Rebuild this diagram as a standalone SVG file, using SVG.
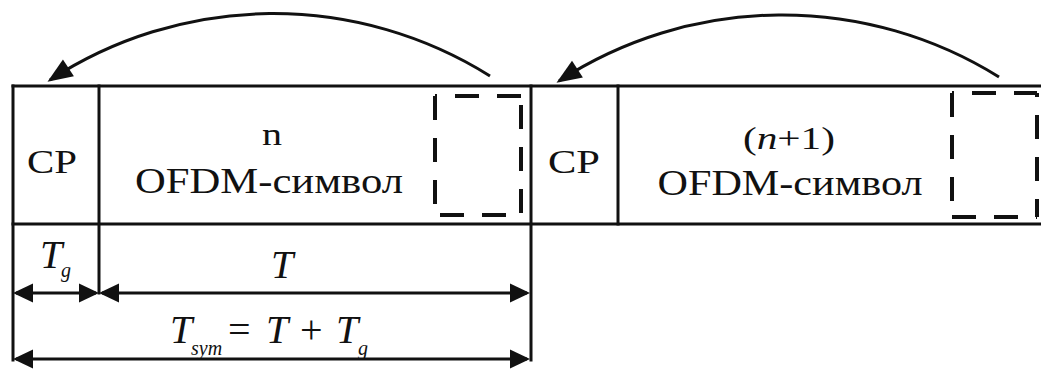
<svg xmlns="http://www.w3.org/2000/svg" width="1041" height="371" viewBox="0 0 1041 371">
  <style>
    .frame { fill: none; stroke: #111; stroke-width: 3; stroke-linecap: square; }
    .dash { fill: none; stroke: #111; stroke-width: 4; stroke-dasharray: 24 18; }
    .arc { fill: none; stroke: #111; stroke-width: 3; marker-end: url(#arcHead); }
    .dim { fill: none; stroke: #111; stroke-width: 3; marker-start: url(#dimHead); marker-end: url(#dimHead); }
    text { font-family: "Times New Roman", "Liberation Serif", Tinos, "DejaVu Serif", "Noto Serif", serif; fill: #111; }
    .lbl { text-anchor: middle; }
    .math { font-style: italic; }
  </style>
  <defs>
    <marker id="arcHead" markerUnits="userSpaceOnUse" viewBox="-24 -11 28 22" refX="0" refY="0" markerWidth="28" markerHeight="22" orient="auto">
      <path d="M3,0 L-22,-10 L-22,10 Z" fill="#111"/>
    </marker>
    <marker id="dimHead" markerUnits="userSpaceOnUse" viewBox="-19 -11 23 22" refX="0" refY="0" markerWidth="23" markerHeight="22" orient="auto-start-reverse">
      <path d="M3,0 L-17,-9.5 L-17,9.5 Z" fill="#111"/>
    </marker>
  </defs>

  <rect width="1041" height="371" fill="#fff"/>

  <!-- outer rails of the symbol stream -->
  <g id="rails">
    <line class="frame" x1="13" y1="86" x2="1041" y2="86"/>
    <line class="frame" x1="13" y1="224" x2="1041" y2="224"/>
  </g>

  <!-- symbol n: cyclic prefix + body -->
  <g id="symbol-n">
    <line class="frame" x1="13" y1="86" x2="13" y2="360"/>
    <line class="frame" x1="99" y1="86" x2="99" y2="293"/>
    <line class="frame" x1="531" y1="86" x2="531" y2="360"/>
    <text class="lbl" x="52" y="173" font-size="34" textLength="50" lengthAdjust="spacingAndGlyphs">CP</text>
    <text class="lbl" x="272" y="145" font-size="31" textLength="20" lengthAdjust="spacingAndGlyphs">n</text>
    <text class="lbl" x="269" y="193" font-size="36" textLength="268" lengthAdjust="spacingAndGlyphs">OFDM-символ</text>
    <g id="tail-n">
      <line class="dash" x1="435" y1="96" x2="435" y2="215"/>
      <line class="dash" x1="435" y1="96" x2="521" y2="96" stroke-dashoffset="22"/>
      <line class="dash" x1="521" y1="96" x2="521" y2="215" stroke-dashoffset="33"/>
      <line class="dash" x1="435" y1="215" x2="521" y2="215" stroke-dashoffset="37"/>
    </g>
  </g>

  <!-- symbol n+1: cyclic prefix + body -->
  <g id="symbol-n1">
    <line class="frame" x1="618" y1="86" x2="618" y2="224"/>
    <text class="lbl" x="574" y="173" font-size="34" textLength="52" lengthAdjust="spacingAndGlyphs">CP</text>
    <text class="lbl" x="789" y="149" font-size="31" textLength="92" lengthAdjust="spacingAndGlyphs">(<tspan font-style="italic">n</tspan>+1)</text>
    <text class="lbl" x="790" y="195" font-size="36" textLength="265" lengthAdjust="spacingAndGlyphs">OFDM-символ</text>
    <g id="tail-n1">
      <line class="dash" x1="952" y1="93" x2="952" y2="217"/>
      <line class="dash" x1="952" y1="93" x2="1037" y2="93" stroke-dashoffset="22"/>
      <line class="dash" x1="1037" y1="93" x2="1037" y2="217" stroke-dashoffset="20"/>
      <line class="dash" x1="952" y1="217" x2="1037" y2="217"/>
    </g>
  </g>

  <!-- tail copied into the prefix -->
  <g id="connectors">
    <path class="arc" d="M490,76 A408,408 0 0 0 50,80"/>
    <path class="arc" d="M999,77 A410,410 0 0 0 559,81"/>
  </g>

  <!-- duration dimensions -->
  <g id="dimensions">
    <line class="dim" x1="16" y1="293" x2="96" y2="293"/>
    <line class="dim" x1="102" y1="293" x2="527" y2="293"/>
    <line class="dim" x1="16" y1="359" x2="527" y2="359"/>

    <text class="math" x="40" y="268" font-size="40">T</text>
    <text class="math" x="61" y="277" font-size="20">g</text>

    <text class="math" x="271" y="278" font-size="40">T</text>

    <text class="math" x="170" y="343" font-size="40">T</text>
    <text class="math" x="191" y="355" font-size="20">sym</text>
    <text x="228" y="343" font-size="40">=</text>
    <text class="math" x="266" y="343" font-size="40">T</text>
    <text x="300" y="343" font-size="40">+</text>
    <text class="math" x="336" y="343" font-size="40">T</text>
    <text class="math" x="358" y="355" font-size="20">g</text>
  </g>
</svg>
